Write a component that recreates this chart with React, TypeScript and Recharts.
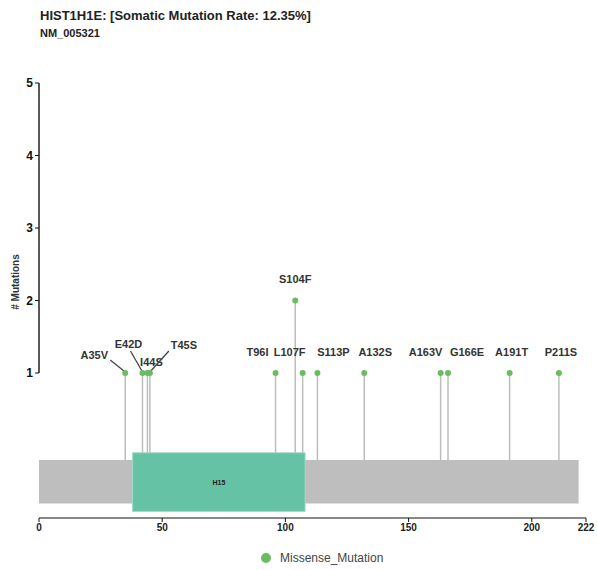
import {
  ComposedChart,
  ReferenceArea,
  ReferenceLine,
  Scatter,
  XAxis,
  YAxis,
} from "recharts";

// HIST1H1E / NM_005321 missense mutations
const positions = [35, 42, 44, 45, 96, 104, 107, 113, 132, 163, 166, 191, 211];
const aaChanges = [
  "A35V", "E42D", "I44S", "T45S", "T96I", "S104F", "L107F",
  "S113P", "A132S", "A163V", "G166E", "A191T", "P211S",
];
const counts = [1, 1, 1, 1, 1, 2, 1, 1, 1, 1, 1, 1, 1];

const proteinLength = 219;
const domainNames = ["H15"];
const domainStarts = [38];
const domainEnds = [108];

const xTicks = [0, 50, 100, 150, 200, 222];
const yTicks = [1, 2, 3, 4, 5];

const GREEN = "#69bd5f";
const STEM = "#bdbdbd";
const FONT = "Arial, 'Liberation Sans', sans-serif";

// protein track heights (y units)
const BAR_TOP = -0.2;
const BAR_BOTTOM = -0.8;
const DOMAIN_TOP = -0.1;
const DOMAIN_BOTTOM = -0.91;

// label placement around crowded dots: [dx, dy, leader start dx, leader start dy]
const labelNudge: Record<string, number[]> = {
  A35V: [-31, -18, -15, -13],
  E42D: [-14, -29, -12, -22],
  I44S: [4, -11],
  T45S: [34, -28, 19, -22],
  T96I: [-18, -21],
  S104F: [0, -22],
  L107F: [-13, -21],
  S113P: [16, -21],
  A132S: [11, -21],
  A163V: [-15, -21],
  G166E: [19, -21],
  A191T: [2, -21],
  P211S: [2, -21],
};

const inDomain = (pos: number) =>
  domainStarts.some((s, i) => pos >= s && pos <= domainEnds[i]);

const mutations = positions.map((pos, i) => ({
  pos,
  count: counts[i],
  name: aaChanges[i],
  // stems stop where the protein track begins
  base: inDomain(pos) ? DOMAIN_TOP : BAR_TOP,
}));

function MutationMark(props: any) {
  const { cx, cy, payload } = props;
  const n = labelNudge[payload.name] || [0, -21];
  const leader =
    n.length > 2 ? `M${cx + n[2]},${cy + n[3]}L${cx},${cy - 1}` : null;
  return (
    <g>
      {leader && <path d={leader} fill="none" stroke="#444" strokeWidth={1.3} />}
      <circle cx={cx} cy={cy} r={3} fill={GREEN} />
      <text
        x={cx + n[0]}
        y={cy + n[1]}
        textAnchor="middle"
        dominantBaseline="central"
        fontFamily={FONT}
        fontWeight="bold"
        fontSize={11}
        fill="#333"
      >
        {payload.name}
      </text>
    </g>
  );
}

export default function App() {
  return (
    <div
      style={{
        position: "absolute",
        left: 0,
        top: 0,
        width: 597,
        height: 570,
        background: "#fff",
        fontFamily: FONT,
      }}
    >
      <div
        style={{
          position: "absolute",
          left: 40,
          top: 8,
          fontSize: 13,
          fontWeight: "bold",
          color: "#222",
          whiteSpace: "nowrap",
        }}
      >
        HIST1H1E: [Somatic Mutation Rate: 12.35%]
      </div>
      <div
        style={{
          position: "absolute",
          left: 40,
          top: 27,
          fontSize: 11,
          fontWeight: "bold",
          color: "#222",
        }}
      >
        NM_005321
      </div>

      <ComposedChart
        width={597}
        height={570}
        data={mutations}
        margin={{ top: 83, right: 11, left: 0, bottom: 32 }}
      >
        <XAxis
          type="number"
          dataKey="pos"
          domain={[0, 222]}
          ticks={xTicks}
          interval={0}
          height={20}
          tickSize={4}
          tickMargin={2}
          stroke="#111"
          tick={{ fill: "#222", fontSize: 10, fontWeight: "bold", fontFamily: FONT }}
        />
        <YAxis
          type="number"
          dataKey="count"
          domain={[-1, 5]}
          ticks={yTicks}
          interval={0}
          width={39}
          axisLine={false}
          tickSize={4}
          tickMargin={2}
          stroke="#111"
          tick={{ fill: "#111", fontSize: 12, fontWeight: "bold", fontFamily: FONT }}
          label={{
            content: () => (
              <text
                x={15}
                y={282}
                transform="rotate(-90, 15, 282)"
                textAnchor="middle"
                dominantBaseline="central"
                fontFamily={FONT}
                fontWeight="bold"
                fontSize={10}
                fill="#333"
              >
                # Mutations
              </text>
            ),
          }}
        />

        <ReferenceArea
          x1={0}
          x2={proteinLength}
          y1={BAR_BOTTOM}
          y2={BAR_TOP}
          fill="#bebebe"
          fillOpacity={1}
          stroke="none"
        />
        {domainNames.map((d, i) => (
          <ReferenceArea
            key={d}
            x1={domainStarts[i]}
            x2={domainEnds[i]}
            y1={DOMAIN_BOTTOM}
            y2={DOMAIN_TOP}
            fill="#66c2a5"
            fillOpacity={1}
            stroke="#a3dac6"
            strokeWidth={1}
            label={{
              value: d,
              position: "center",
              fontSize: 7,
              fontWeight: "bold",
              fill: "#222",
              fontFamily: FONT,
            }}
          />
        ))}

        {mutations.map((m) => (
          <ReferenceLine
            key={m.name}
            segment={[
              { x: m.pos, y: m.base },
              { x: m.pos, y: m.count },
            ]}
            stroke={STEM}
            strokeWidth={1.5}
          />
        ))}

        <ReferenceLine
          segment={[
            { x: 0, y: 1 },
            { x: 0, y: 5 },
          ]}
          stroke="#222"
          strokeWidth={1.5}
        />

        <Scatter
          name="Missense_Mutation"
          dataKey="count"
          fill={GREEN}
          isAnimationActive={false}
          shape={(p: any) => <MutationMark {...p} />}
        />
      </ComposedChart>

      <div
        style={{
          position: "absolute",
          left: 261,
          top: 551,
          display: "flex",
          alignItems: "center",
          fontSize: 12,
          color: "#444",
        }}
      >
        <span
          style={{
            width: 10,
            height: 10,
            borderRadius: 5,
            background: GREEN,
            display: "inline-block",
            marginRight: 9,
          }}
        />
        Missense_Mutation
      </div>
    </div>
  );
}
